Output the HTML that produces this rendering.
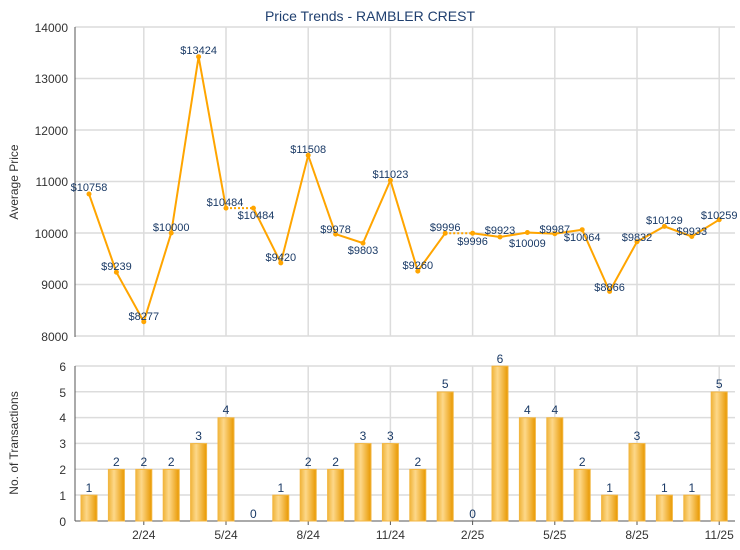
<!DOCTYPE html>
<html><head><meta charset="utf-8"><style>
body{margin:0;background:#fff;}
svg{display:block;font-family:"Liberation Sans",Arial,sans-serif;}
</style></head><body>
<svg width="740" height="550" viewBox="0 0 740 550" xmlns="http://www.w3.org/2000/svg">
<defs>
<linearGradient id="bg" x1="0" x2="1" y1="0" y2="0">
<stop offset="0" stop-color="#f0b43a"/><stop offset="0.35" stop-color="#fdd88a"/><stop offset="1" stop-color="#e89800"/>
</linearGradient>
</defs>
<text x="370" y="21" text-anchor="middle" font-size="14" fill="#1f3f6f">Price Trends - RAMBLER CREST</text>
<!-- top grid -->
<g stroke="#dcdcdc" stroke-width="1.5">
<line x1="75" x2="735" y1="27" y2="27"/><line x1="75" x2="735" y1="78.5" y2="78.5"/><line x1="75" x2="735" y1="130" y2="130"/><line x1="75" x2="735" y1="181.5" y2="181.5"/><line x1="75" x2="735" y1="233" y2="233"/><line x1="75" x2="735" y1="284.5" y2="284.5"/><line x1="75" x2="735" y1="336" y2="336"/>
<line x1="143.8" x2="143.8" y1="27" y2="336"/><line x1="226" x2="226" y1="27" y2="336"/><line x1="308.2" x2="308.2" y1="27" y2="336"/><line x1="390.4" x2="390.4" y1="27" y2="336"/><line x1="472.6" x2="472.6" y1="27" y2="336"/><line x1="554.8" x2="554.8" y1="27" y2="336"/><line x1="637" x2="637" y1="27" y2="336"/><line x1="719.2" x2="719.2" y1="27" y2="336"/>
</g>
<line x1="75" x2="75" y1="27" y2="337" stroke="#555" stroke-width="1"/>
<g font-size="12" fill="#333" text-anchor="end">
<text x="68" y="32">14000</text><text x="68" y="83">13000</text><text x="68" y="135">12000</text><text x="68" y="186">11000</text><text x="68" y="238">10000</text><text x="68" y="289">9000</text><text x="68" y="341">8000</text>
</g>
<text transform="translate(18,182) rotate(-90)" text-anchor="middle" font-size="12" fill="#333">Average Price</text>
<g fill="none" stroke="#ffa500" stroke-width="2">
<polyline points="89,194 116.4,272.2 143.8,321.7 171.2,233 198.6,56.7 226,208.1"/>
<polyline points="253.4,208.1 280.8,262.9 308.2,155.3 335.6,234.1 363,243.1 390.4,180.3 417.8,271.1 445.2,233.2"/>
<polyline points="472.6,233.2 500,237 527.4,232.5 554.8,233.7 582.2,229.7 609.6,291.4 637,241.7 664.4,226.4 691.8,236.5 719.2,219.7"/>
<line x1="226" y1="208.1" x2="253.4" y2="208.1" stroke-dasharray="2,2"/>
<line x1="445.2" y1="233.2" x2="472.6" y2="233.2" stroke-dasharray="2,2"/>
</g>
<g fill="#ffa500">
<circle cx="89" cy="194" r="2.5"/><circle cx="116.4" cy="272.2" r="2.5"/><circle cx="143.8" cy="321.7" r="2.5"/><circle cx="171.2" cy="233" r="2.5"/><circle cx="198.6" cy="56.7" r="2.5"/><circle cx="226" cy="208.1" r="2.5"/><circle cx="253.4" cy="208.1" r="2.5"/><circle cx="280.8" cy="262.9" r="2.5"/><circle cx="308.2" cy="155.3" r="2.5"/><circle cx="335.6" cy="234.1" r="2.5"/><circle cx="363" cy="243.1" r="2.5"/><circle cx="390.4" cy="180.3" r="2.5"/><circle cx="417.8" cy="271.1" r="2.5"/><circle cx="445.2" cy="233.2" r="2.5"/><circle cx="472.6" cy="233.2" r="2.5"/><circle cx="500" cy="237" r="2.5"/><circle cx="527.4" cy="232.5" r="2.5"/><circle cx="554.8" cy="233.7" r="2.5"/><circle cx="582.2" cy="229.7" r="2.5"/><circle cx="609.6" cy="291.4" r="2.5"/><circle cx="637" cy="241.7" r="2.5"/><circle cx="664.4" cy="226.4" r="2.5"/><circle cx="691.8" cy="236.5" r="2.5"/><circle cx="719.2" cy="219.7" r="2.5"/>
</g>
<g font-size="11" fill="#1a3a66" text-anchor="middle">
<text x="89" y="191">$10758</text><text x="116.4" y="270">$9239</text><text x="143.8" y="320">$8277</text><text x="171.2" y="231">$10000</text><text x="198.6" y="54">$13424</text><text x="225" y="206">$10484</text><text x="256" y="219">$10484</text><text x="280.8" y="261">$9420</text><text x="308.2" y="153">$11508</text><text x="335.6" y="233">$9978</text><text x="363" y="254">$9803</text><text x="390.4" y="178">$11023</text><text x="417.8" y="269">$9260</text><text x="445.2" y="231">$9996</text><text x="472.6" y="245">$9996</text><text x="500" y="234">$9923</text><text x="527.4" y="247">$10009</text><text x="554.8" y="233">$9987</text><text x="582.2" y="241">$10064</text><text x="609.6" y="291">$8866</text><text x="637" y="241">$9832</text><text x="664.4" y="224">$10129</text><text x="691.8" y="235">$9933</text><text x="719.2" y="219">$10259</text>
</g>
<!-- bottom grid -->
<g stroke="#dcdcdc" stroke-width="1.5">
<line x1="75" x2="735" y1="366" y2="366"/><line x1="75" x2="735" y1="391.8" y2="391.8"/><line x1="75" x2="735" y1="417.6" y2="417.6"/><line x1="75" x2="735" y1="443.4" y2="443.4"/><line x1="75" x2="735" y1="469.2" y2="469.2"/><line x1="75" x2="735" y1="495" y2="495"/>
<line x1="143.8" x2="143.8" y1="366" y2="521"/><line x1="226" x2="226" y1="366" y2="521"/><line x1="308.2" x2="308.2" y1="366" y2="521"/><line x1="390.4" x2="390.4" y1="366" y2="521"/><line x1="472.6" x2="472.6" y1="366" y2="521"/><line x1="554.8" x2="554.8" y1="366" y2="521"/><line x1="637" x2="637" y1="366" y2="521"/><line x1="719.2" x2="719.2" y1="366" y2="521"/>
</g>
<line x1="75" x2="75" y1="366" y2="521" stroke="#555"/>
<line x1="75" x2="735" y1="521" y2="521" stroke="#555"/>
<g stroke="#555"><line x1="143.8" x2="143.8" y1="521" y2="525"/><line x1="226" x2="226" y1="521" y2="525"/><line x1="308.2" x2="308.2" y1="521" y2="525"/><line x1="390.4" x2="390.4" y1="521" y2="525"/><line x1="472.6" x2="472.6" y1="521" y2="525"/><line x1="554.8" x2="554.8" y1="521" y2="525"/><line x1="637" x2="637" y1="521" y2="525"/><line x1="719.2" x2="719.2" y1="521" y2="525"/></g>
<g font-size="12" fill="#333" text-anchor="end">
<text x="66" y="371">6</text><text x="66" y="397">5</text><text x="66" y="422">4</text><text x="66" y="448">3</text><text x="66" y="474">2</text><text x="66" y="500">1</text><text x="66" y="526">0</text>
</g>
<text transform="translate(18,443) rotate(-90)" text-anchor="middle" font-size="12" fill="#333">No. of Transactions</text>
<g fill="url(#bg)" stroke="#f3b640" stroke-width="1">
<rect x="81" y="495.2" width="16" height="25.8"/>
<rect x="108.4" y="469.4" width="16" height="51.6"/>
<rect x="135.8" y="469.4" width="16" height="51.6"/>
<rect x="163.2" y="469.4" width="16" height="51.6"/>
<rect x="190.6" y="443.6" width="16" height="77.4"/>
<rect x="218" y="417.8" width="16" height="103.2"/>
<rect x="272.8" y="495.2" width="16" height="25.8"/>
<rect x="300.2" y="469.4" width="16" height="51.6"/>
<rect x="327.6" y="469.4" width="16" height="51.6"/>
<rect x="355" y="443.6" width="16" height="77.4"/>
<rect x="382.4" y="443.6" width="16" height="77.4"/>
<rect x="409.8" y="469.4" width="16" height="51.6"/>
<rect x="437.2" y="392" width="16" height="129"/>
<rect x="492" y="366.2" width="16" height="154.8"/>
<rect x="519.4" y="417.8" width="16" height="103.2"/>
<rect x="546.8" y="417.8" width="16" height="103.2"/>
<rect x="574.2" y="469.4" width="16" height="51.6"/>
<rect x="601.6" y="495.2" width="16" height="25.8"/>
<rect x="629" y="443.6" width="16" height="77.4"/>
<rect x="656.4" y="495.2" width="16" height="25.8"/>
<rect x="683.8" y="495.2" width="16" height="25.8"/>
<rect x="711.2" y="392" width="16" height="129"/>
</g>
<g font-size="12" fill="#1a3a66" text-anchor="middle">
<text x="89" y="492">1</text><text x="116.4" y="466">2</text><text x="143.8" y="466">2</text><text x="171.2" y="466">2</text><text x="198.6" y="440">3</text><text x="226" y="414">4</text><text x="253.4" y="518">0</text><text x="280.8" y="492">1</text><text x="308.2" y="466">2</text><text x="335.6" y="466">2</text><text x="363" y="440">3</text><text x="390.4" y="440">3</text><text x="417.8" y="466">2</text><text x="445.2" y="388">5</text><text x="472.6" y="518">0</text><text x="500" y="363">6</text><text x="527.4" y="414">4</text><text x="554.8" y="414">4</text><text x="582.2" y="466">2</text><text x="609.6" y="492">1</text><text x="637" y="440">3</text><text x="664.4" y="492">1</text><text x="691.8" y="492">1</text><text x="719.2" y="388">5</text>
</g>
<g font-size="12" fill="#333" text-anchor="middle">
<text x="143.8" y="539">2/24</text><text x="226" y="539">5/24</text><text x="308.2" y="539">8/24</text><text x="390.4" y="539">11/24</text><text x="472.6" y="539">2/25</text><text x="554.8" y="539">5/25</text><text x="637" y="539">8/25</text><text x="719.2" y="539">11/25</text>
</g>
</svg>
</body></html>
